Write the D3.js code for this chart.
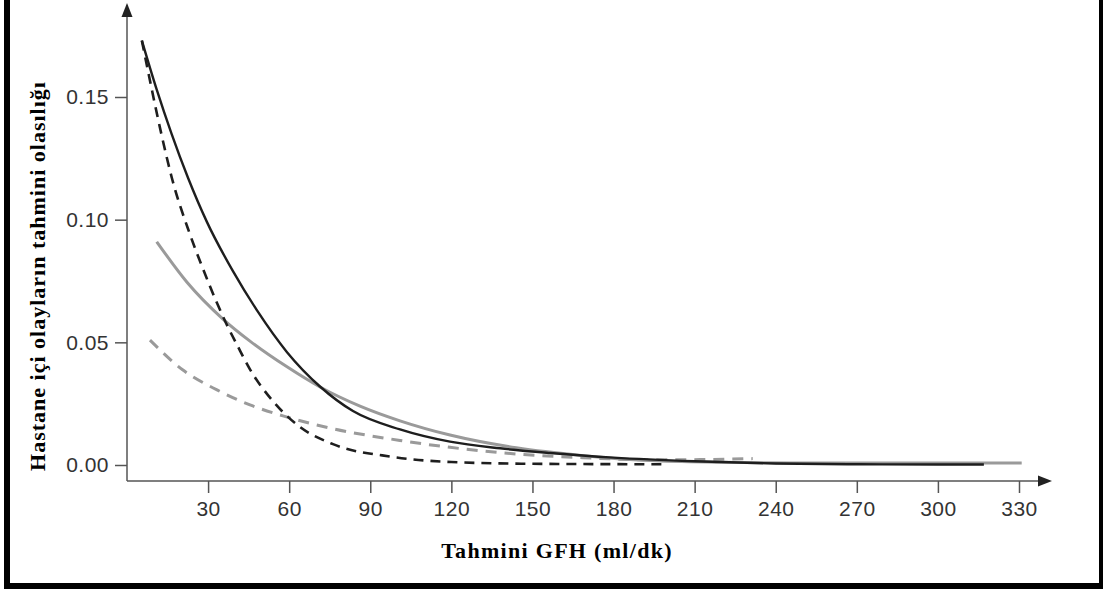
<!DOCTYPE html>
<html>
<head>
    <title>gfh</title>
    <script src="https://d3js.org/d3.v7.min.js"></script>
    <style>
        body { margin: 0; background: #fff; }
    </style>
</head>
<body>
    <svg width="1103" height="589" id="mainsvg"></svg>
    <script>
        // values: x = estimated GFH (ml/dk), y = probability
        const blackSolidX = [5.5, 11, 16.5, 22.6, 29.6, 39.2, 48.1, 59.2, 71.4, 83.6, 101, 119.5, 138, 156.5, 180, 210, 240, 270, 300, 317];
        const blackSolidY = [0.173, 0.153, 0.135, 0.117, 0.099, 0.079, 0.063, 0.046, 0.032, 0.022, 0.0145, 0.0095, 0.0068, 0.0049, 0.003, 0.0015, 0.0006, 0.0003, 0.0002, 0.0002];

        const blackDashX = [5.5, 9, 12.9, 16.6, 23.3, 28.1, 33.3, 37, 40.7, 45.5, 54, 64, 76.2, 98.4, 120, 150, 198];
        const blackDashY = [0.173, 0.154, 0.134, 0.117, 0.094, 0.080, 0.066, 0.057, 0.049, 0.039, 0.026, 0.0155, 0.0085, 0.0033, 0.0012, 0.0005, 0.0003];

        const graySolidX = [11, 22.2, 35.5, 45.5, 59.2, 71.4, 86.2, 101, 119.5, 144, 168.7, 193.5, 220, 250, 280, 310, 331];
        const graySolidY = [0.091, 0.0745, 0.0595, 0.0505, 0.040, 0.0318, 0.024, 0.018, 0.0122, 0.007, 0.0038, 0.0018, 0.0011, 0.0008, 0.0008, 0.0008, 0.0008];

        const grayDashX = [8.5, 20.7, 33.3, 45.5, 57.7, 76.2, 101, 119.5, 144, 168.7, 193.5, 212, 231.5];
        const grayDashY = [0.0509, 0.0387, 0.0306, 0.0245, 0.020, 0.0148, 0.010, 0.0072, 0.0045, 0.003, 0.0021, 0.0022, 0.0026];

        const xTicks = [30, 60, 90, 120, 150, 180, 210, 240, 270, 300, 330];
        const yTicks = [0, 0.05, 0.10, 0.15];

        const svg = d3.select('#mainsvg');

        const x = d3.scaleLinear().domain([0, 330]).range([127, 1019]);
        const y = d3.scaleLinear().domain([0, 0.15]).range([465, 97]);
        const axisY = 481;

        // frame
        svg.append('line').attr('x1', 7).attr('x2', 7).attr('y1', 0).attr('y2', 589)
            .attr('stroke', '#000').attr('stroke-width', 6);
        svg.append('line').attr('x1', 1101).attr('x2', 1101).attr('y1', 0).attr('y2', 589)
            .attr('stroke', '#000').attr('stroke-width', 4);
        svg.append('line').attr('x1', 4).attr('x2', 1103).attr('y1', 586).attr('y2', 586)
            .attr('stroke', '#000').attr('stroke-width', 6);

        // axes
        const gx = svg.append('g').attr('transform', `translate(0,${axisY})`)
            .call(d3.axisBottom(x).tickValues(xTicks).tickSize(12).tickPadding(8).tickFormat(d3.format('d')));
        const gy = svg.append('g').attr('transform', 'translate(127,0)')
            .call(d3.axisLeft(y).tickValues(yTicks).tickSize(12).tickPadding(6).tickFormat(d3.format('.2f')));
        [gx, gy].forEach(g => {
            g.select('.domain').remove();
            g.selectAll('line').attr('stroke', '#555').attr('stroke-width', 1.5);
            g.selectAll('text').attr('fill', '#333')
                .style('font-family', '"Liberation Sans", Arial, sans-serif')
                .style('font-size', '21px').style('letter-spacing', '0.5px');
        });

        svg.append('line').attr('x1', 127).attr('x2', 127).attr('y1', axisY).attr('y2', 14)
            .attr('stroke', '#555').attr('stroke-width', 1.5);
        svg.append('path').attr('d', 'M127,3 L121.5,17 L132.5,17 Z').attr('fill', '#222');
        svg.append('line').attr('x1', 127).attr('x2', 1040).attr('y1', axisY).attr('y2', axisY)
            .attr('stroke', '#555').attr('stroke-width', 1.5);
        svg.append('path').attr('d', `M1052,${axisY} L1038,${axisY - 5.5} L1038,${axisY + 5.5} Z`).attr('fill', '#222');

        // titles
        svg.append('text').attr('x', 557).attr('y', 558).attr('text-anchor', 'middle')
            .style('font-family', '"Liberation Serif", "Times New Roman", serif')
            .style('font-weight', 'bold').style('font-size', '22px').style('letter-spacing', '1.3px')
            .text('Tahmini GFH (ml/dk)');
        svg.append('text').attr('transform', 'translate(45,276) rotate(-90)').attr('text-anchor', 'middle')
            .style('font-family', '"Liberation Serif", "Times New Roman", serif')
            .style('font-weight', 'bold').style('font-size', '22px').style('letter-spacing', '1px')
            .text('Hastane içi olayların tahmini olasılığı');

        // curves
        const line = d3.line().x(d => x(d[0])).y(d => y(d[1])).curve(d3.curveMonotoneX);
        const series = [
            { xs: graySolidX, ys: graySolidY, color: '#9a9a9a', width: 3, dash: null },
            { xs: grayDashX, ys: grayDashY, color: '#9a9a9a', width: 3, dash: '11,8' },
            { xs: blackDashX, ys: blackDashY, color: '#1e1e1e', width: 2.6, dash: '10,7' },
            { xs: blackSolidX, ys: blackSolidY, color: '#1e1e1e', width: 2.4, dash: null }
        ];
        series.forEach(s => {
            const pts = s.xs.map((v, i) => [v, s.ys[i]]);
            svg.append('path').datum(pts)
                .attr('d', line)
                .attr('fill', 'none')
                .attr('stroke', s.color)
                .attr('stroke-width', s.width)
                .attr('stroke-dasharray', s.dash);
        });
    </script>
</body>
</html>
